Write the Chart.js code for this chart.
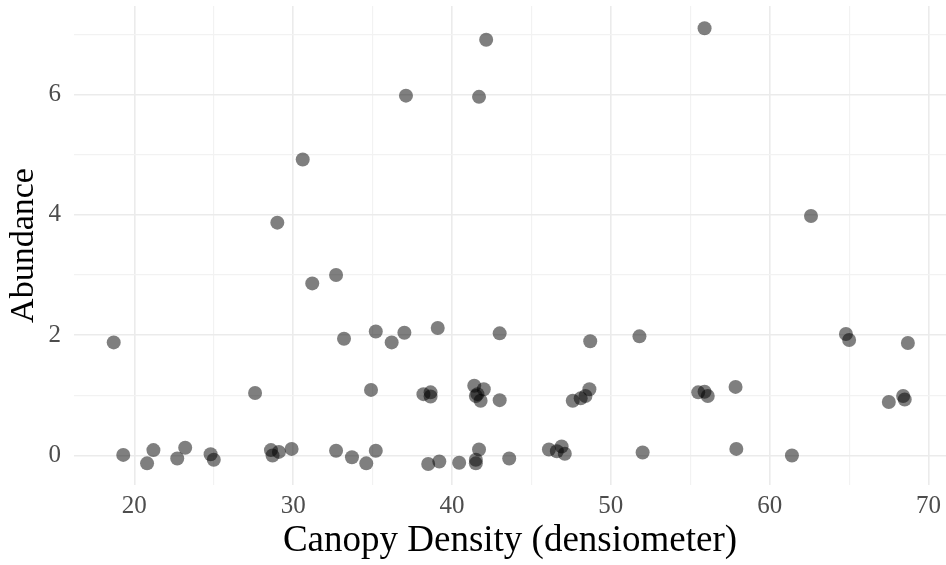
<!DOCTYPE html>
<html>
<head>
<meta charset="utf-8">
<script src="https://cdn.jsdelivr.net/npm/chart.js@4"></script>
<style>
  html, body { margin: 0; padding: 0; background: #ffffff; }
  #wrap { width: 946px; height: 565px; }
</style>
</head>
<body>
<div id="wrap"><canvas id="scatterChart" width="946" height="565"></canvas></div>
<script>
// Canopy density (x) and abundance (y)
const canopy = [
  18.7, 19.3, 20.8, 21.2, 22.7, 23.2, 24.8, 25.0, 27.6, 28.6,
  28.7, 29.1, 29.9, 29.0, 30.6, 31.2, 32.7, 32.7, 33.2, 33.7,
  34.6, 34.9, 35.2, 35.2, 36.2, 37.0, 37.1, 38.2, 38.5, 38.65,
  38.65, 39.1, 39.2, 40.45, 41.4, 41.5, 41.5, 41.5, 41.6, 41.7,
  41.7, 41.8, 42.0, 42.15, 43.0, 43.0, 43.6, 46.1, 46.6, 46.9,
  47.1, 47.6, 48.1, 48.4, 48.65, 48.7, 51.8, 52.0, 55.5, 55.9,
  55.9, 56.1, 57.85, 57.9, 61.4, 62.6, 64.8, 65.0, 67.5, 68.4,
  68.5, 68.7
];
const abundance = [
  1.88, 0.01, -0.13, 0.09, -0.05, 0.13, 0.02, -0.07, 1.04, 0.09,
  0.00, 0.06, 0.11, 3.87, 4.92, 2.86, 3.00, 0.08, 1.94, -0.03,
  -0.13, 1.09, 2.06, 0.08, 1.88, 2.04, 5.98, 1.02, -0.14, 1.05,
  0.98, 2.12, -0.10, -0.12, 1.16, -0.07, -0.13, 0.99, 1.02, 5.96,
  0.10, 0.91, 1.10, 6.91, 2.03, 0.92, -0.05, 0.10, 0.07, 0.15,
  0.03, 0.91, 0.95, 0.99, 1.10, 1.90, 1.98, 0.05, 1.05, 1.06,
  7.10, 0.99, 1.14, 0.11, 0.00, 3.98, 2.02, 1.92, 0.89, 0.99,
  0.93, 1.87
];

// grid positions (major ones carry labels)
const xTicks = [20, 25, 30, 35, 40, 45, 50, 55, 60, 65, 70];
const xLabels = [20, 30, 40, 50, 60, 70];
const yTicks = [0, 1, 2, 3, 4, 5, 6, 7];
const yLabels = [0, 2, 4, 6];

const serif = "'Liberation Serif', 'DejaVu Serif', serif";

const points = canopy.map((x, i) => ({ x: x, y: abundance[i] }));

// no automatic label padding, keep the panel edge where ggplot puts it
function noPadding(scale) {
  scale.paddingTop = 0;
  scale.paddingBottom = 0;
  scale.paddingLeft = 0;
  scale.paddingRight = 0;
}

const ctx = document.getElementById('scatterChart').getContext('2d');
new Chart(ctx, {
  type: 'scatter',
  data: {
    datasets: [{
      data: points,
      backgroundColor: 'rgba(0, 0, 0, 0.5)',
      borderWidth: 0,
      pointRadius: 7,
      pointHoverRadius: 7
    }]
  },
  options: {
    responsive: false,
    animation: false,
    layout: { autoPadding: false, padding: { top: 6, right: 0, bottom: 0, left: 0 } },
    plugins: {
      legend: { display: false },
      tooltip: { enabled: false }
    },
    scales: {
      x: {
        type: 'linear',
        min: 16.2,
        max: 71.1,
        afterBuildTicks: axis => { axis.ticks = xTicks.map(v => ({ value: v })); },
        afterFit: scale => { scale.height = 80; noPadding(scale); },
        border: { display: false },
        grid: {
          drawTicks: false,
          color: c => xLabels.includes(c.tick.value) ? '#ebebeb' : '#f2f2f2',
          lineWidth: c => xLabels.includes(c.tick.value) ? 1.6 : 1.2
        },
        ticks: {
          padding: 6,
          color: '#4d4d4d',
          font: { family: serif, size: 25 },
          maxRotation: 0,
          autoSkip: false,
          callback: v => xLabels.includes(v) ? String(v) : ''
        },
        title: {
          display: true,
          text: 'Canopy Density (densiometer)',
          color: '#000000',
          font: { family: serif, size: 37 },
          padding: { top: 0, bottom: 2 }
        }
      },
      y: {
        type: 'linear',
        min: -0.49,
        max: 7.47,
        afterBuildTicks: axis => { axis.ticks = yTicks.map(v => ({ value: v })); },
        afterFit: scale => { scale.width = 74; noPadding(scale); },
        border: { display: false },
        grid: {
          drawTicks: false,
          color: c => yLabels.includes(c.tick.value) ? '#ebebeb' : '#f2f2f2',
          lineWidth: c => yLabels.includes(c.tick.value) ? 1.6 : 1.2
        },
        ticks: {
          padding: 13,
          color: '#4d4d4d',
          font: { family: serif, size: 25 },
          autoSkip: false,
          callback: v => yLabels.includes(v) ? String(v) : ''
        },
        title: {
          display: true,
          text: 'Abundance',
          color: '#000000',
          font: { family: serif, size: 34 },
          padding: { top: 4, bottom: 0 }
        }
      }
    }
  }
});
</script>
</body>
</html>
